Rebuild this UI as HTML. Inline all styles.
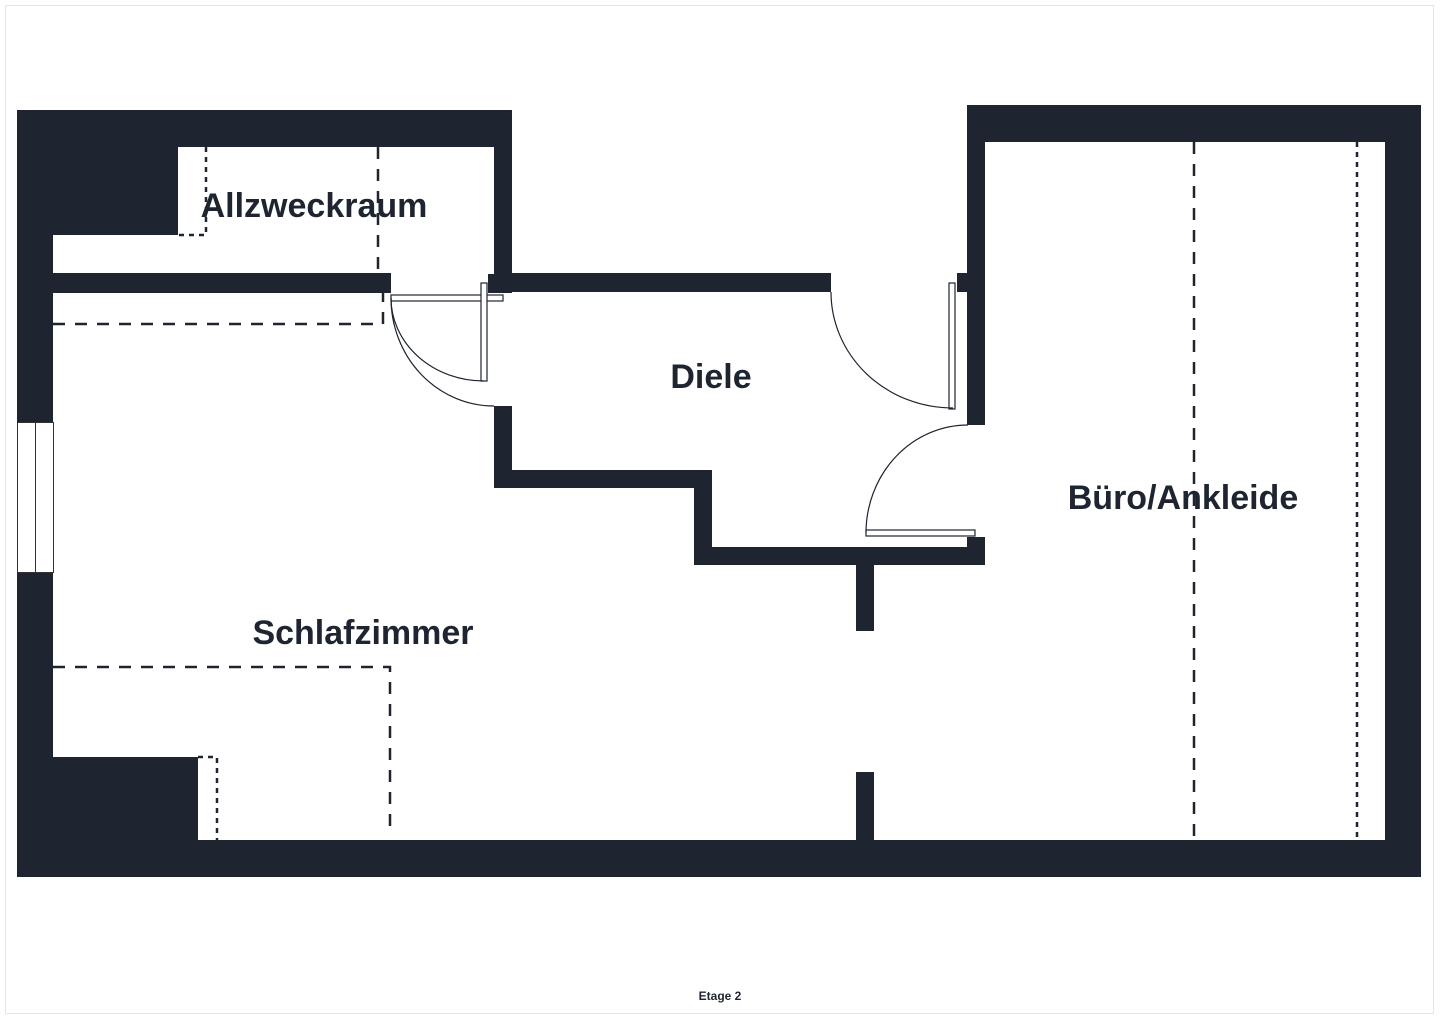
<!DOCTYPE html>
<html><head><meta charset="utf-8"><style>
html,body{margin:0;padding:0;background:#fff;width:1440px;height:1019px;overflow:hidden}
svg{display:block}
text{font-family:"Liberation Sans",sans-serif;font-weight:bold;fill:#1e2530}
</style></head><body>
<svg width="1440" height="1019" viewBox="0 0 1440 1019" xmlns="http://www.w3.org/2000/svg">
<rect x="5.5" y="5.5" width="1428" height="1008" fill="none" stroke="#e6e6e6" stroke-width="1"/>
<g fill="#1e2530">
<rect x="17" y="110" width="495" height="37"/>
<rect x="17" y="110" width="161" height="125"/>
<rect x="17" y="110" width="36" height="312"/>
<rect x="17" y="572" width="36" height="305"/>
<rect x="494" y="110" width="18" height="183"/>
<rect x="488" y="274" width="24" height="19"/>
<rect x="53" y="273" width="338" height="20"/>
<rect x="494" y="273" width="337" height="19"/>
<rect x="494" y="406" width="18" height="82"/>
<rect x="494" y="470" width="218" height="18"/>
<rect x="694" y="470" width="18" height="95"/>
<rect x="694" y="547" width="291" height="18"/>
<rect x="967" y="537" width="18" height="28"/>
<rect x="856" y="565" width="18" height="66"/>
<rect x="856" y="772" width="18" height="68"/>
<rect x="967" y="105" width="454" height="37"/>
<rect x="967" y="105" width="18" height="320"/>
<rect x="957" y="273" width="12" height="19"/>
<rect x="1385" y="105" width="36" height="772"/>
<rect x="17" y="840" width="1404" height="37"/>
<rect x="17" y="757" width="181" height="120"/>
</g>
<g fill="#fff" stroke="#333" stroke-width="1">
<rect x="17.5" y="422.5" width="18" height="150"/>
<rect x="35.5" y="422.5" width="18" height="150"/>
</g>
<g fill="none" stroke="#1e2530" stroke-width="2.5">
<path d="M206 147V235H178" stroke-dasharray="5 5"/>
<path d="M378 147V273" stroke-dasharray="12 10"/>
<path d="M53 324H383V293" stroke-dasharray="12 10"/>
<path d="M53 667H390V833" stroke-dasharray="12 10"/>
<path d="M198 757H217V840" stroke-dasharray="5 5"/>
<path d="M1194 142V840" stroke-dasharray="12 10"/>
<path d="M1357 142V840" stroke-dasharray="5 5"/>
</g>
<g fill="#fff" stroke="#1e2530" stroke-width="1.2">
<rect x="391" y="295" width="112" height="6"/>
<rect x="481" y="283" width="6" height="98"/>
<path d="M391 298A93 83 0 0 0 484 381" fill="none"/>
<path d="M391 298A103 108 0 0 0 494 406" fill="none"/>
<rect x="949" y="283" width="6" height="126"/>
<path d="M831 292A122 116 0 0 0 953 408" fill="none"/>
<rect x="866" y="530" width="109" height="6"/>
<path d="M968 425A102 108 0 0 0 866 533" fill="none"/>
</g>
<text x="314" y="217" font-size="34" text-anchor="middle">Allzweckraum</text>
<text x="711" y="388" font-size="34" text-anchor="middle">Diele</text>
<text x="1183" y="509" font-size="34" text-anchor="middle">Büro/Ankleide</text>
<text x="363" y="644" font-size="34" text-anchor="middle">Schlafzimmer</text>
<text x="720" y="1000" font-size="12" text-anchor="middle">Etage 2</text>
</svg>
</body></html>
